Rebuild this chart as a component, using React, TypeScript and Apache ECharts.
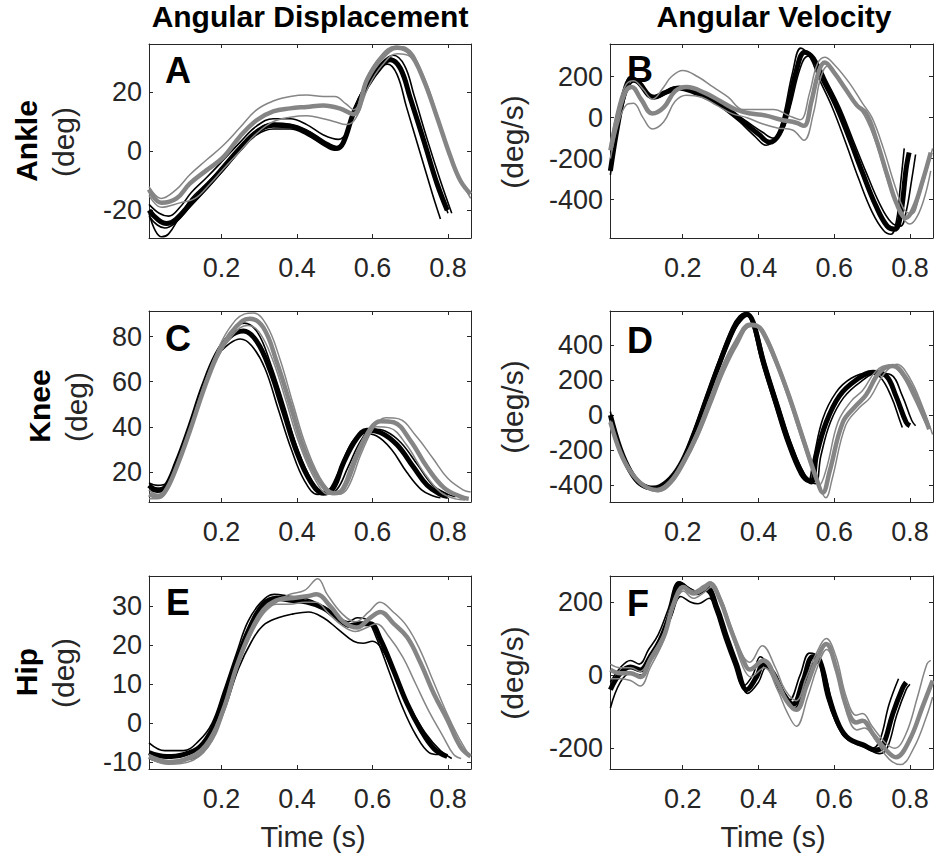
import React, { useEffect, useRef } from "react";
import * as echarts from "echarts";

type P = [number, number][];

// ---------- tick labels ----------
const timeTicks = [0.2, 0.4, 0.6, 0.8];
const ankleDispTicks = [-20, 0, 20];
const ankleVelTicks = [-400, -200, 0, 200];
const kneeDispTicks = [20, 40, 60, 80];
const kneeVelTicks = [-400, -200, 0, 200, 400];
const hipDispTicks = [-10, 0, 10, 20, 30];
const hipVelTicks = [-200, 0, 200];

// ---------- A: ankle displacement (deg) ----------
const ankleDispBlackMid: P = [[0.008,-20],[0.03,-23],[0.054,-24.5],[0.08,-23],[0.116,-18],[0.16,-12],[0.205,-5.5],[0.249,1],[0.293,6.5],[0.337,8.8],[0.382,8.5],[0.426,6.5],[0.47,3],[0.506,1],[0.523,3],[0.55,13],[0.585,22],[0.621,28.5],[0.647,31],[0.674,28],[0.70,18],[0.736,3.5],[0.771,-11],[0.798,-20]];
const ankleDispBlackLo: P = [[0.008,-22],[0.03,-25],[0.05,-26],[0.08,-24],[0.116,-19],[0.16,-13],[0.205,-6.5],[0.249,0],[0.293,5.5],[0.337,7.5],[0.382,7.5],[0.426,5.5],[0.47,2],[0.50,0.3],[0.52,2],[0.545,12],[0.58,22],[0.615,28],[0.64,29.5],[0.665,26],[0.69,15],[0.725,0],[0.76,-15],[0.775,-21],[0.78,-23]];
const ankleDispBlackHi: P = [[0.008,-18],[0.035,-21],[0.06,-22],[0.09,-19],[0.12,-14],[0.16,-9],[0.205,-3],[0.249,3],[0.293,8.5],[0.337,11],[0.382,11],[0.426,9],[0.47,5.5],[0.51,4],[0.53,6],[0.555,15],[0.59,24],[0.625,30],[0.655,32.5],[0.685,29],[0.71,19],[0.745,4],[0.78,-10],[0.81,-21]];
const ankleDispBlackOut: P = [[0.008,-21],[0.025,-27],[0.041,-29],[0.06,-28],[0.09,-22],[0.12,-16],[0.16,-11],[0.205,-5],[0.249,1.5],[0.293,7],[0.337,9.5],[0.382,9],[0.426,7],[0.47,3.5],[0.505,1.5],[0.525,4],[0.55,14],[0.585,23],[0.62,29],[0.648,31.5],[0.675,28],[0.70,19],[0.735,4],[0.77,-10],[0.80,-21]];
const ankleDispGrayMid: P = [[0.008,-13],[0.041,-17.5],[0.081,-16],[0.116,-11],[0.16,-6.5],[0.205,-2],[0.249,5],[0.293,10.5],[0.337,13.5],[0.382,14.5],[0.426,15],[0.47,15.5],[0.513,14.5],[0.55,12.5],[0.585,24],[0.621,31],[0.665,35],[0.70,33],[0.736,24],[0.771,11.5],[0.807,-2],[0.833,-10],[0.86,-14.5]];
const ankleDispGrayHi: P = [[0.008,-12],[0.04,-16],[0.08,-13],[0.116,-8],[0.16,-3],[0.205,2],[0.249,8],[0.293,14],[0.337,17],[0.382,18.5],[0.426,19],[0.47,18.5],[0.50,18.5],[0.53,16],[0.55,14],[0.585,25],[0.62,32],[0.66,35.5],[0.69,35],[0.73,27],[0.765,15],[0.80,1],[0.83,-9],[0.845,-13]];
const ankleDispGrayLo: P = [[0.008,-15],[0.041,-19],[0.09,-17.5],[0.13,-16],[0.17,-11],[0.205,-6],[0.249,0],[0.293,6],[0.337,10],[0.382,11.5],[0.426,12],[0.47,11],[0.50,10],[0.53,9],[0.555,11],[0.59,22],[0.625,29],[0.665,33],[0.70,32],[0.74,22],[0.78,8],[0.82,-6],[0.86,-16]];

// ---------- B: ankle velocity (deg/s) ----------
const ankleVelBlackMid: P = [[0.009,-260],[0.03,-20],[0.05,150],[0.065,190],[0.085,170],[0.11,110],[0.125,100],[0.15,120],[0.19,145],[0.23,125],[0.28,85],[0.32,40],[0.36,-20],[0.40,-80],[0.43,-120],[0.455,-80],[0.475,30],[0.50,230],[0.522,320],[0.545,290],[0.57,190],[0.605,60],[0.64,-100],[0.675,-270],[0.71,-430],[0.74,-530],[0.76,-545],[0.775,-480],[0.79,-250],[0.798,-170]];
const ankleVelBlackLo: P = [[0.009,-280],[0.03,-30],[0.05,160],[0.06,200],[0.08,180],[0.105,120],[0.12,105],[0.145,120],[0.18,150],[0.22,130],[0.27,90],[0.31,40],[0.35,-20],[0.39,-90],[0.42,-135],[0.445,-100],[0.465,0],[0.49,220],[0.512,340],[0.535,300],[0.56,190],[0.595,50],[0.63,-120],[0.665,-300],[0.70,-460],[0.73,-550],[0.75,-570],[0.765,-500],[0.775,-330],[0.785,-150]];
const ankleVelBlackHi: P = [[0.009,-240],[0.035,0],[0.055,140],[0.07,175],[0.09,160],[0.115,100],[0.13,95],[0.16,120],[0.20,140],[0.24,120],[0.29,80],[0.33,30],[0.37,-20],[0.41,-70],[0.44,-100],[0.465,-60],[0.485,60],[0.51,240],[0.53,300],[0.555,270],[0.58,180],[0.615,50],[0.65,-110],[0.685,-270],[0.72,-420],[0.75,-510],[0.775,-530],[0.79,-460],[0.805,-300],[0.815,-180]];
const ankleVelGrayMid: P = [[0.009,-160],[0.03,20],[0.05,130],[0.065,150],[0.09,90],[0.12,20],[0.15,50],[0.18,130],[0.21,150],[0.26,120],[0.30,80],[0.34,40],[0.38,20],[0.42,10],[0.46,-10],[0.50,-25],[0.52,-40],[0.54,80],[0.56,230],[0.575,270],[0.60,220],[0.63,140],[0.66,60],[0.685,20],[0.71,-100],[0.74,-280],[0.765,-420],[0.79,-490],[0.81,-440],[0.835,-300],[0.855,-170]];
const ankleVelGrayHi: P = [[0.009,-130],[0.03,60],[0.05,160],[0.07,180],[0.095,140],[0.12,90],[0.15,150],[0.17,200],[0.20,230],[0.24,200],[0.28,150],[0.32,100],[0.36,40],[0.40,40],[0.44,40],[0.48,10],[0.51,-10],[0.535,120],[0.555,260],[0.575,295],[0.60,260],[0.64,170],[0.675,70],[0.70,0],[0.73,-150],[0.76,-330],[0.785,-450],[0.805,-470],[0.825,-380],[0.86,-150]];
const ankleVelGrayLo: P = [[0.009,-200],[0.03,-30],[0.05,60],[0.07,70],[0.095,0],[0.12,-55],[0.15,-20],[0.18,80],[0.21,110],[0.25,100],[0.29,60],[0.33,20],[0.37,0],[0.41,-30],[0.45,-50],[0.49,-60],[0.52,-110],[0.545,20],[0.565,200],[0.585,255],[0.61,200],[0.645,100],[0.68,10],[0.71,-120],[0.745,-330],[0.775,-470],[0.80,-520],[0.82,-480],[0.84,-380],[0.855,-260]];

// ---------- C: knee displacement (deg) ----------
const kneeDispBlackMid: P = [[0.008,14],[0.03,12],[0.05,13],[0.081,24],[0.116,40],[0.152,58],[0.187,72],[0.222,80],[0.258,82.5],[0.293,78],[0.329,65],[0.364,47],[0.399,29],[0.435,16],[0.47,10.5],[0.497,13],[0.523,24],[0.559,35],[0.585,38.5],[0.621,37.5],[0.665,32],[0.709,22],[0.745,14],[0.78,10],[0.80,9]];
const kneeDispBlackLo: P = [[0.008,12],[0.03,11],[0.05,12],[0.081,23],[0.116,40],[0.152,58],[0.187,71],[0.222,77],[0.25,79],[0.28,76],[0.315,66],[0.35,48],[0.385,30],[0.42,16],[0.455,10],[0.48,11],[0.51,20],[0.545,33],[0.575,37],[0.61,36],[0.65,30],[0.69,20],[0.73,12],[0.765,9],[0.78,8.5]];
const kneeDispBlackHi: P = [[0.008,15],[0.03,14],[0.055,15],[0.085,25],[0.12,41],[0.155,59],[0.19,73],[0.225,82],[0.26,86],[0.295,82],[0.33,68],[0.365,50],[0.40,31],[0.44,16],[0.475,10],[0.505,12],[0.535,22],[0.57,34],[0.60,39],[0.635,38],[0.675,33],[0.72,23],[0.76,14],[0.80,10],[0.82,9]];
const kneeDispGrayMid: P = [[0.008,10],[0.03,9],[0.05,11],[0.081,22],[0.116,38],[0.152,56],[0.187,71],[0.222,81],[0.255,87],[0.275,88],[0.311,84],[0.346,69],[0.382,50],[0.417,31],[0.461,15.5],[0.497,10.5],[0.523,12.5],[0.559,27],[0.594,39],[0.621,42.5],[0.656,42],[0.70,34],[0.745,22],[0.789,13],[0.833,9],[0.855,8]];
const kneeDispGrayHi: P = [[0.008,12],[0.03,10],[0.05,12],[0.081,23],[0.116,39],[0.152,58],[0.187,73],[0.222,84],[0.26,90],[0.285,90.5],[0.32,85],[0.355,70],[0.39,50],[0.425,31],[0.47,15],[0.51,10],[0.535,13],[0.57,28],[0.605,40],[0.635,44],[0.67,43.5],[0.715,36],[0.76,26],[0.80,17],[0.84,12],[0.86,11]];
const kneeDispGrayLo: P = [[0.008,8],[0.03,8],[0.05,10],[0.081,21],[0.116,37],[0.152,55],[0.187,70],[0.222,79],[0.25,84],[0.27,85],[0.30,82],[0.335,70],[0.37,52],[0.405,33],[0.45,16],[0.485,10],[0.515,12],[0.545,24],[0.58,36],[0.61,40],[0.645,39.5],[0.69,32],[0.735,20],[0.78,11],[0.82,8],[0.845,7.5]];

// ---------- D: knee velocity (deg/s) ----------
const kneeVelBlackMid: P = [[0.009,0],[0.035,-190],[0.062,-320],[0.088,-390],[0.123,-415],[0.158,-380],[0.193,-285],[0.228,-115],[0.263,95],[0.298,300],[0.334,490],[0.355,560],[0.369,575],[0.386,530],[0.413,300],[0.448,60],[0.483,-170],[0.518,-340],[0.54,-380],[0.553,-230],[0.579,-40],[0.614,110],[0.658,200],[0.702,245],[0.737,225],[0.763,110],[0.79,-40],[0.80,-60]];
const kneeVelBlackLo: P = [[0.009,20],[0.035,-200],[0.062,-330],[0.088,-400],[0.12,-420],[0.155,-385],[0.19,-290],[0.225,-110],[0.26,100],[0.295,310],[0.33,500],[0.35,565],[0.365,580],[0.38,540],[0.405,330],[0.44,80],[0.475,-160],[0.51,-340],[0.53,-380],[0.545,-250],[0.57,-20],[0.605,130],[0.645,210],[0.69,240],[0.72,220],[0.75,110],[0.775,-40],[0.78,-70]];
const kneeVelBlackHi: P = [[0.009,-20],[0.035,-180],[0.062,-310],[0.088,-385],[0.125,-410],[0.16,-375],[0.195,-280],[0.23,-120],[0.265,90],[0.30,290],[0.336,480],[0.36,550],[0.373,565],[0.39,520],[0.42,290],[0.455,50],[0.49,-180],[0.525,-350],[0.55,-390],[0.565,-230],[0.59,-40],[0.625,100],[0.67,190],[0.715,240],[0.75,230],[0.78,110],[0.805,-30],[0.815,-60]];
const kneeVelGrayMid: P = [[0.009,-40],[0.035,-210],[0.062,-320],[0.097,-400],[0.132,-425],[0.167,-380],[0.202,-265],[0.237,-115],[0.272,75],[0.307,265],[0.342,415],[0.377,515],[0.395,510],[0.413,470],[0.448,300],[0.483,95],[0.518,-135],[0.553,-360],[0.57,-440],[0.588,-320],[0.623,-40],[0.658,55],[0.684,115],[0.72,245],[0.755,280],[0.79,210],[0.825,60],[0.851,-80]];
const kneeVelGrayHi: P = [[0.009,-30],[0.035,-200],[0.062,-310],[0.097,-395],[0.13,-420],[0.165,-375],[0.20,-260],[0.235,-105],[0.27,90],[0.305,285],[0.34,430],[0.37,515],[0.385,520],[0.405,480],[0.44,320],[0.475,120],[0.51,-110],[0.545,-330],[0.56,-400],[0.58,-300],[0.61,-40],[0.645,80],[0.675,140],[0.71,250],[0.745,285],[0.775,240],[0.81,100],[0.84,-40],[0.845,-60]];
const kneeVelGrayLo: P = [[0.009,-50],[0.035,-220],[0.065,-330],[0.10,-410],[0.135,-435],[0.17,-390],[0.205,-275],[0.24,-125],[0.275,60],[0.31,250],[0.345,400],[0.38,505],[0.40,500],[0.42,455],[0.455,280],[0.49,70],[0.525,-160],[0.56,-400],[0.578,-470],[0.595,-360],[0.63,-60],[0.665,40],[0.695,100],[0.73,230],[0.765,290],[0.80,210],[0.835,40],[0.86,-110]];

// ---------- E: hip displacement (deg) ----------
const hipDispBlackMid: P = [[0.008,-7.5],[0.054,-8.5],[0.099,-8],[0.143,-6],[0.178,-1],[0.205,6],[0.24,16],[0.275,24.5],[0.311,30.5],[0.346,32],[0.382,31.5],[0.426,31],[0.47,29.5],[0.506,27],[0.541,25],[0.568,25.5],[0.594,25.5],[0.621,21.5],[0.656,13.5],[0.692,5],[0.727,-1.5],[0.763,-6.5],[0.798,-8.5]];
const hipDispBlackHi: P = [[0.008,-5],[0.05,-7],[0.099,-7],[0.14,-4.5],[0.175,0],[0.205,8],[0.24,18],[0.27,26],[0.305,31],[0.34,33],[0.38,32.5],[0.42,32],[0.46,30.5],[0.50,28],[0.535,26],[0.56,27],[0.585,26.5],[0.61,22],[0.645,13],[0.68,4],[0.715,-3],[0.75,-7.5],[0.775,-8]];
const hipDispBlackLo: P = [[0.008,-9],[0.05,-10],[0.099,-9.5],[0.145,-8],[0.18,-3],[0.21,4],[0.245,14],[0.28,21],[0.31,25],[0.35,27],[0.39,28],[0.43,28.5],[0.47,27],[0.51,24],[0.55,21],[0.575,20.5],[0.60,21],[0.625,19],[0.66,12],[0.70,4],[0.74,-2.5],[0.78,-7],[0.81,-9]];
const hipDispGrayMid: P = [[0.008,-8.5],[0.06,-10],[0.099,-9.5],[0.16,-6],[0.205,3.5],[0.24,14.5],[0.275,23],[0.311,29],[0.346,31.5],[0.382,32],[0.426,32.5],[0.452,33],[0.488,30],[0.523,26],[0.559,24.5],[0.594,27],[0.621,28.5],[0.656,25.5],[0.692,22],[0.727,15.5],[0.763,7.5],[0.798,1],[0.833,-6],[0.86,-8.5]];
const hipDispGrayHi: P = [[0.008,-9],[0.06,-10.5],[0.11,-10],[0.165,-6],[0.205,3],[0.24,14],[0.275,22],[0.311,28],[0.346,31],[0.38,33],[0.42,34],[0.455,37],[0.48,33],[0.52,28],[0.555,26],[0.59,28.5],[0.62,31],[0.655,28.5],[0.69,25],[0.725,19],[0.76,11],[0.795,3],[0.825,-3],[0.855,-8]];
const hipDispGrayLo: P = [[0.008,-8],[0.06,-9.5],[0.099,-9],[0.155,-5.5],[0.20,3],[0.235,13],[0.27,22],[0.305,28],[0.345,30.5],[0.38,30.5],[0.42,31],[0.45,31],[0.485,28],[0.52,25],[0.555,23.5],[0.585,24.5],[0.61,25.5],[0.645,22],[0.68,17],[0.715,10],[0.75,3],[0.785,-3],[0.815,-8],[0.835,-9]];

// ---------- F: hip velocity (deg/s) ----------
const hipVelBlackMid: P = [[0.009,-40],[0.035,5],[0.062,22],[0.088,14],[0.114,50],[0.14,95],[0.167,168],[0.193,250],[0.22,230],[0.237,225],[0.264,238],[0.29,185],[0.316,104],[0.342,30],[0.369,-40],[0.395,-5],[0.413,30],[0.439,5],[0.465,-50],[0.491,-80],[0.518,-15],[0.544,50],[0.562,40],[0.588,-65],[0.614,-140],[0.64,-175],[0.675,-190],[0.71,-205],[0.728,-195],[0.755,-105],[0.781,-35],[0.79,-20]];
const hipVelBlackHi: P = [[0.009,-20],[0.035,20],[0.062,40],[0.085,30],[0.11,70],[0.135,110],[0.16,175],[0.19,255],[0.215,240],[0.235,230],[0.26,230],[0.285,180],[0.31,100],[0.335,30],[0.36,-30],[0.385,0],[0.405,50],[0.43,20],[0.455,-40],[0.48,-70],[0.51,0],[0.535,60],[0.555,50],[0.58,-60],[0.605,-130],[0.63,-170],[0.665,-185],[0.70,-200],[0.72,-180],[0.745,-80],[0.77,-10]];
const hipVelBlackLo: P = [[0.009,-90],[0.035,-20],[0.062,5],[0.09,0],[0.115,40],[0.14,85],[0.17,160],[0.195,215],[0.22,200],[0.24,195],[0.27,210],[0.295,160],[0.32,90],[0.345,20],[0.372,-50],[0.40,-20],[0.42,20],[0.445,-5],[0.47,-60],[0.495,-90],[0.52,-35],[0.55,35],[0.57,20],[0.595,-80],[0.62,-160],[0.65,-185],[0.685,-200],[0.72,-215],[0.74,-200],[0.765,-110],[0.79,-40],[0.80,-25]];
const hipVelGrayMid: P = [[0.009,15],[0.035,5],[0.062,5],[0.088,-5],[0.114,40],[0.15,105],[0.176,195],[0.202,240],[0.228,223],[0.255,236],[0.272,250],[0.299,205],[0.325,130],[0.36,40],[0.377,15],[0.413,40],[0.448,-15],[0.474,-70],[0.50,-95],[0.527,-30],[0.553,40],[0.579,85],[0.605,20],[0.632,-85],[0.658,-130],[0.675,-125],[0.702,-160],[0.737,-205],[0.763,-225],[0.798,-180],[0.834,-85],[0.86,-15]];
const hipVelGrayHi: P = [[0.009,30],[0.035,20],[0.062,20],[0.088,10],[0.114,50],[0.15,115],[0.176,200],[0.202,245],[0.228,230],[0.255,245],[0.272,255],[0.299,215],[0.325,140],[0.355,60],[0.377,35],[0.41,80],[0.445,20],[0.47,-40],[0.50,-70],[0.525,-10],[0.553,60],[0.579,100],[0.605,50],[0.632,-60],[0.658,-110],[0.675,-105],[0.70,-140],[0.735,-185],[0.76,-200],[0.79,-160],[0.82,-60],[0.845,30],[0.855,40]];
const hipVelGrayLo: P = [[0.009,-10],[0.035,-10],[0.062,-15],[0.088,-30],[0.114,20],[0.15,95],[0.176,185],[0.202,230],[0.228,210],[0.255,225],[0.275,240],[0.30,195],[0.33,110],[0.36,20],[0.38,-5],[0.415,20],[0.45,-40],[0.475,-100],[0.50,-140],[0.53,-60],[0.555,20],[0.58,70],[0.61,0],[0.635,-110],[0.66,-150],[0.68,-145],[0.71,-180],[0.745,-230],[0.775,-245],[0.81,-200],[0.845,-110],[0.86,-60]];

// ---------- layout / style ----------
const FONT = "'Liberation Sans', Arial, Helvetica, sans-serif";
const AXIS = "#262626";
const BLACK = "#000000";
const GRAY = "#858585";
const X_MIN = 0.008;
const X_MAX = 0.861;

type Panel = {
  letter: string;
  letterX: number;
  letterY: number;
  grid: { left: number; top: number; width: number; height: number };
  yMin: number;
  yMax: number;
  yTicks: number[];
  black: P[];
  gray: P[];
};

const panels: Panel[] = [
  { letter: "A", letterX: 165, letterY: 70, grid: { left: 149, top: 44, width: 322, height: 194 }, yMin: -29.4, yMax: 36.3, yTicks: ankleDispTicks,
    black: [ankleDispBlackOut, ankleDispBlackLo, ankleDispBlackHi, ankleDispBlackMid], gray: [ankleDispGrayLo, ankleDispGrayHi, ankleDispGrayMid] },
  { letter: "B", letterX: 627, letterY: 69, grid: { left: 610, top: 44, width: 323, height: 194 }, yMin: -588, yMax: 360, yTicks: ankleVelTicks,
    black: [ankleVelBlackLo, ankleVelBlackHi, ankleVelBlackMid], gray: [ankleVelGrayLo, ankleVelGrayHi, ankleVelGrayMid] },
  { letter: "C", letterX: 165, letterY: 338, grid: { left: 149, top: 311, width: 322, height: 191 }, yMin: 6.6, yMax: 91.4, yTicks: kneeDispTicks,
    black: [kneeDispBlackLo, kneeDispBlackHi, kneeDispBlackMid], gray: [kneeDispGrayLo, kneeDispGrayHi, kneeDispGrayMid] },
  { letter: "D", letterX: 627, letterY: 340, grid: { left: 610, top: 311, width: 323, height: 191 }, yMin: -494, yMax: 593, yTicks: kneeVelTicks,
    black: [kneeVelBlackLo, kneeVelBlackHi, kneeVelBlackMid], gray: [kneeVelGrayLo, kneeVelGrayHi, kneeVelGrayMid] },
  { letter: "E", letterX: 166, letterY: 602, grid: { left: 149, top: 576, width: 322, height: 193 }, yMin: -11.7, yMax: 37.7, yTicks: hipDispTicks,
    black: [hipDispBlackLo, hipDispBlackHi, hipDispBlackMid], gray: [hipDispGrayLo, hipDispGrayHi, hipDispGrayMid] },
  { letter: "F", letterX: 627, letterY: 603, grid: { left: 610, top: 576, width: 323, height: 193 }, yMin: -257, yMax: 271, yTicks: hipVelTicks,
    black: [hipVelBlackLo, hipVelBlackHi, hipVelBlackMid], gray: [hipVelGrayLo, hipVelGrayHi, hipVelGrayMid] },
];

function text(t: string, x: number, y: number, size: number, bold: boolean, rotation = 0, fill = BLACK) {
  return {
    type: "text",
    x,
    y,
    rotation,
    z: 10,
    silent: true,
    style: {
      text: t,
      fontSize: size,
      fontWeight: bold ? "bold" : "normal",
      fontFamily: FONT,
      fill,
      textAlign: "center",
      textVerticalAlign: "middle",
    },
  };
}

function buildOption() {
  const grid: any[] = [];
  const xAxis: any[] = [];
  const yAxis: any[] = [];
  const series: any[] = [];

  panels.forEach((p, i) => {
    grid.push({ ...p.grid, show: false, containLabel: false });
    const tick = { show: true, inside: true, length: 4, lineStyle: { color: AXIS, width: 1 } };
    const line = { show: true, onZero: false, lineStyle: { color: AXIS, width: 1 } };
    xAxis.push({
      type: "value", gridIndex: i, position: "bottom", min: X_MIN, max: X_MAX,
      axisLine: line, axisTick: { ...tick, customValues: timeTicks },
      axisLabel: { show: true, customValues: timeTicks, fontSize: 27, fontFamily: FONT, color: AXIS, margin: 16 },
      splitLine: { show: false },
    });
    xAxis.push({
      type: "value", gridIndex: i, position: "top", min: X_MIN, max: X_MAX,
      axisLine: line, axisTick: { ...tick, customValues: timeTicks },
      axisLabel: { show: false }, splitLine: { show: false },
    });
    yAxis.push({
      type: "value", gridIndex: i, position: "left", min: p.yMin, max: p.yMax,
      axisLine: line, axisTick: { ...tick, customValues: p.yTicks },
      axisLabel: { show: true, customValues: p.yTicks, fontSize: 27, fontFamily: FONT, color: AXIS, margin: 7 },
      splitLine: { show: false },
    });
    yAxis.push({
      type: "value", gridIndex: i, position: "right", min: p.yMin, max: p.yMax,
      axisLine: line, axisTick: { ...tick, customValues: p.yTicks },
      axisLabel: { show: false }, splitLine: { show: false },
    });

    const add = (data: P, color: string, width: number, z: number) => {
      series.push({
        type: "line", xAxisIndex: 2 * i, yAxisIndex: 2 * i, data,
        showSymbol: false, symbol: "none", smooth: 0.4, silent: true, clip: true, z,
        lineStyle: { color, width },
      });
    };
    p.black.forEach((d, k) => add(d, BLACK, k === p.black.length - 1 ? 5 : 1.6, 2));
    p.gray.forEach((d, k) => add(d, GRAY, k === p.gray.length - 1 ? 4.5 : 1.5, 3));
  });

  const graphic: any[] = [
    text("Angular Displacement", 310, 16, 30, true),
    text("Angular Velocity", 774, 16, 30, true),
    text("Ankle", 26, 141, 30, true, Math.PI / 2),
    text("(deg)", 63, 142, 30, false, Math.PI / 2, AXIS),
    text("Knee", 39, 406, 30, true, Math.PI / 2),
    text("(deg)", 76, 407, 30, false, Math.PI / 2, AXIS),
    text("Hip", 26, 672, 30, true, Math.PI / 2),
    text("(deg)", 63, 673, 30, false, Math.PI / 2, AXIS),
    text("(deg/s)", 512, 142, 30, false, Math.PI / 2, AXIS),
    text("(deg/s)", 512, 407, 30, false, Math.PI / 2, AXIS),
    text("(deg/s)", 512, 673, 30, false, Math.PI / 2, AXIS),
    text("Time (s)", 313, 837, 29, false, 0, AXIS),
    text("Time (s)", 773, 837, 29, false, 0, AXIS),
  ];
  panels.forEach((p) => {
    graphic.push({
      type: "text", x: p.letterX, y: p.letterY, z: 1, silent: true,
      style: { text: p.letter, fontSize: 36, fontWeight: "bold", fontFamily: FONT, fill: BLACK, textAlign: "left", textVerticalAlign: "middle" },
    });
  });

  return { animation: false, backgroundColor: "#ffffff", grid, xAxis, yAxis, series, graphic };
}

export default function App() {
  const ref = useRef<HTMLDivElement>(null);
  useEffect(() => {
    if (!ref.current) return;
    const chart = echarts.init(ref.current, undefined, { renderer: "svg" });
    chart.setOption(buildOption() as any);
    return () => chart.dispose();
  }, []);
  return (
    <div
      ref={ref}
      style={{ position: "absolute", left: 0, top: 0, width: 934, height: 863, background: "#fff" }}
    />
  );
}
